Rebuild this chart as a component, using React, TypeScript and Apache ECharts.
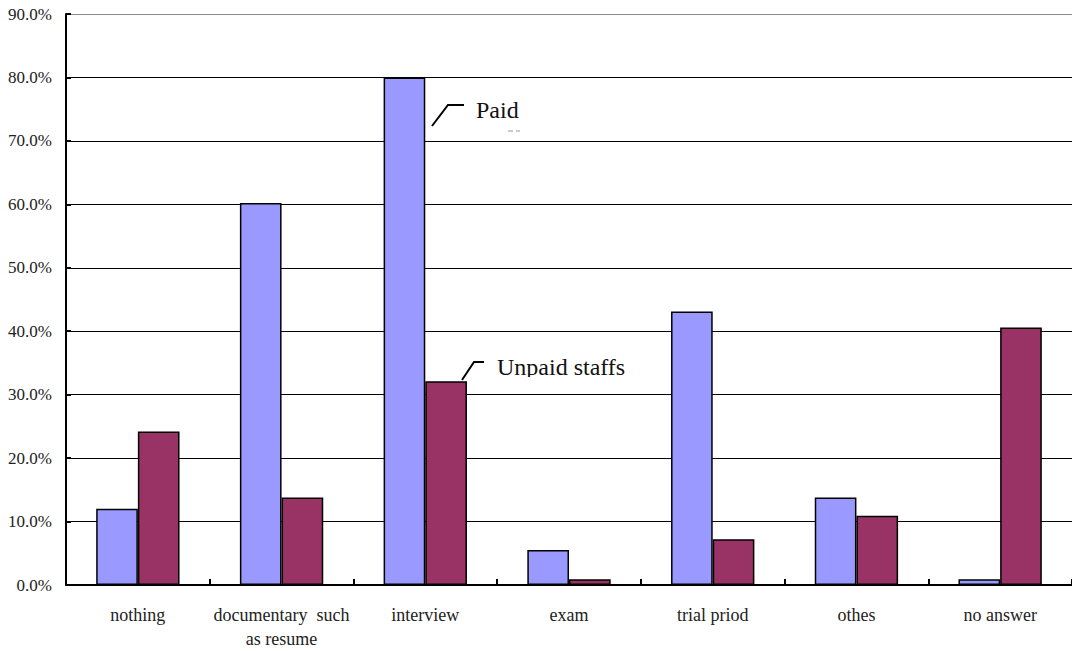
import React, { useEffect, useRef } from "react";
import * as echarts from "echarts";

// Share of responses per selection method
const categories = [
  "nothing",
  "documentary  such\nas resume",
  "interview",
  "exam",
  "trial priod",
  "othes",
  "no answer",
];
const paidValues = [12.0, 60.2, 80.0, 5.5, 43.1, 13.8, 0.9];
const unpaidValues = [24.2, 13.8, 32.1, 0.9, 7.2, 10.9, 40.6];
const seriesNames = ["Paid staffs", "Unpaid staffs"];

const FONT = "Liberation Serif";

export default function App() {
  const ref = useRef<HTMLDivElement>(null);

  useEffect(() => {
    if (!ref.current) return;
    const chart = echarts.init(ref.current, null, { renderer: "svg" });
    // the topmost line doubles as the plot border and is drawn in grey
    const gridColors = ["#808080", "#000", "#000", "#000", "#000", "#000", "#000", "#000", "#000", "#8c8c8c"];
    chart.setOption({
      animation: false,
      backgroundColor: "#ffffff",
      textStyle: { fontFamily: FONT },
      grid: { left: 66, top: 14, width: 1008, height: 572, containLabel: false },
      xAxis: {
        type: "category",
        data: categories,
        boundaryGap: true,
        axisLine: { show: true, lineStyle: { color: "#000", width: 2 } },
        axisTick: { show: true, inside: true, length: 6, lineStyle: { color: "#000", width: 2 } },
        axisLabel: {
          interval: 0,
          margin: 18,
          fontFamily: FONT,
          fontSize: 18,
          lineHeight: 24,
          color: "#222",
        },
        splitLine: { show: false },
      },
      yAxis: {
        type: "value",
        min: 0,
        max: 90,
        interval: 10,
        axisLine: { show: true, lineStyle: { color: "#000", width: 2 } },
        axisTick: { show: true, inside: true, length: 5, lineStyle: { color: "#000", width: 2 } },
        axisLabel: {
          margin: 14,
          fontFamily: FONT,
          fontSize: 17,
          color: "#222",
          formatter: (v: number) => v.toFixed(1) + "%",
        },
        splitLine: { show: true, lineStyle: { color: gridColors, width: 1.2 } },
      },
      series: [
        {
          name: seriesNames[0],
          type: "bar",
          data: paidValues,
          barGap: "0%",
          barCategoryGap: "42%",
          itemStyle: { color: "#9999FF", borderColor: "#000", borderWidth: 1.5 },
        },
        {
          name: seriesNames[1],
          type: "bar",
          data: unpaidValues,
          barGap: "0%",
          barCategoryGap: "42%",
          itemStyle: { color: "#993366", borderColor: "#000", borderWidth: 1.5 },
        },
      ],
      graphic: [
        // callout for the first series
        {
          type: "polyline",
          shape: { points: [[432, 126], [448, 105], [464, 105]] },
          style: { stroke: "#000", lineWidth: 2, fill: null },
          z: 10,
        },
        {
          type: "text",
          x: 476,
          y: 110,
          style: { text: "Paid", fontFamily: FONT, fontSize: 24, fill: "#111", verticalAlign: "middle" },
          z: 10,
        },
        {
          type: "line",
          shape: { x1: 508, y1: 131, x2: 513, y2: 131 },
          style: { stroke: "#999", lineWidth: 1 },
          z: 10,
        },
        {
          type: "line",
          shape: { x1: 516, y1: 131, x2: 520, y2: 131 },
          style: { stroke: "#999", lineWidth: 1 },
          z: 10,
        },
        // callout for the second series
        {
          type: "polyline",
          shape: { points: [[462, 380], [474, 362], [484, 362]] },
          style: { stroke: "#000", lineWidth: 2, fill: null },
          z: 10,
        },
        {
          type: "text",
          x: 497,
          y: 367,
          style: { text: "Unpaid staffs", fontFamily: FONT, fontSize: 24, fill: "#111", verticalAlign: "middle" },
          z: 10,
        },
        {
          type: "rect",
          shape: { x: 494, y: 377, width: 150, height: 12 },
          style: { fill: "#fff" },
          z: 11,
        },
      ],
    });
    return () => chart.dispose();
  }, []);

  return (
    <div
      ref={ref}
      style={{ position: "fixed", left: 0, top: 0, width: 1072, height: 651, background: "#fff" }}
    />
  );
}
